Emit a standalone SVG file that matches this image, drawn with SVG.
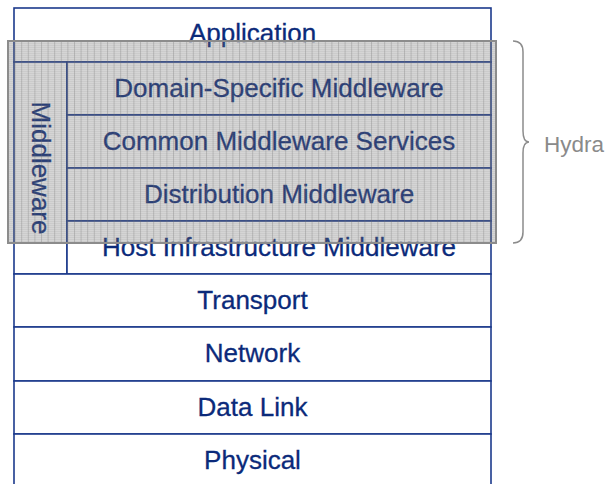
<svg xmlns="http://www.w3.org/2000/svg" width="605" height="484" viewBox="0 0 605 484">
<style>
.box{fill:#ffffff;stroke:#1c3a8c;stroke-width:1.6}
.lbl{font-family:"Liberation Sans",Arial,sans-serif;font-size:26px;fill:#0b2a7a;text-anchor:middle;stroke:#0b2a7a;stroke-width:0.3}
.hy{font-family:"Liberation Sans",Arial,sans-serif;font-size:22.5px;fill:#8a8a8a}
</style>
<defs>
<pattern id="hatch" patternUnits="userSpaceOnUse" x="8" y="41" width="6.6" height="2">
<rect width="6.6" height="2" fill="#6e6e6e" fill-opacity="0.29"/>
<rect width="6.6" height="1" fill="#6e6e6e" fill-opacity="0.1"/>
<rect width="1" height="2" fill="#6e6e6e" fill-opacity="0.3"/>
</pattern>
</defs>
<rect width="605" height="484" fill="#ffffff"/>
<g id="application"><rect class="box" x="14" y="8" width="477" height="54"/><text class="lbl" x="252.5" y="42">Application</text></g>
<g id="middleware"><rect class="box" x="14" y="62" width="53" height="212"/><text class="lbl" transform="translate(32,168) rotate(90)">Middleware</text></g>
<g id="domain-specific"><rect class="box" x="67" y="62" width="424" height="53"/><text class="lbl" x="279" y="97">Domain-Specific Middleware</text></g>
<g id="common-services"><rect class="box" x="67" y="115" width="424" height="53"/><text class="lbl" x="279" y="150">Common Middleware Services</text></g>
<g id="distribution"><rect class="box" x="67" y="168" width="424" height="53"/><text class="lbl" x="279" y="203">Distribution Middleware</text></g>
<g id="host-infrastructure"><rect class="box" x="67" y="221" width="424" height="53"/><text class="lbl" x="279" y="256">Host Infrastructure Middleware</text></g>
<g id="transport"><rect class="box" x="14" y="274" width="477" height="53"/><text class="lbl" x="252.5" y="309">Transport</text></g>
<g id="network"><rect class="box" x="14" y="327" width="477" height="54"/><text class="lbl" x="252.5" y="362">Network</text></g>
<g id="data-link"><rect class="box" x="14" y="381" width="477" height="53"/><text class="lbl" x="252.5" y="416">Data Link</text></g>
<g id="physical"><rect class="box" x="14" y="434" width="477" height="60"/><text class="lbl" x="252.5" y="469">Physical</text></g>
<g id="hydra">
<rect x="8" y="41" width="488" height="202" fill="url(#hatch)" stroke="#8c8c8c" stroke-width="2"/>
<path d="M513,41 Q523,41 523,52 L523,131 Q523,142 529,142 Q523,142 523,153 L523,232 Q523,243 513,243" fill="none" stroke="#8c8c8c" stroke-width="1.5"/>
<text class="hy" x="544" y="152">Hydra</text>
</g>
</svg>
